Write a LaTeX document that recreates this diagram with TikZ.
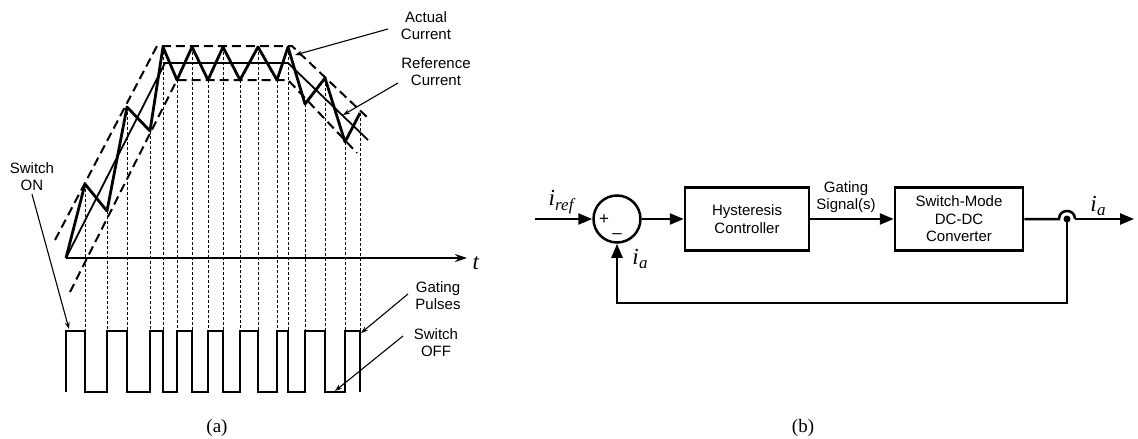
\documentclass[tikz,border=0pt]{standalone}
\usepackage{fontspec}
\setmainfont{Liberation Serif}
\setsansfont{Liberation Sans}
\usetikzlibrary{arrows.meta,calc}
\newcommand\ivar[1]{\textit{i}\kern0.3pt\raisebox{-0.45ex}{\fontsize{17}{17}\selectfont\textit{#1}}}
\begin{document}
\begin{tikzpicture}[x=1pt,y=-1pt,
  lbl/.style={font=\sffamily\fontsize{15}{17}\selectfont, align=center, inner sep=0pt},
  var/.style={font=\fontsize{23}{23}\selectfont, inner sep=0pt},
  captionlbl/.style={font=\fontsize{19}{19}\selectfont, inner sep=0pt},
  bound/.style={line width=2pt, dash pattern=on 9pt off 5pt},
  refc/.style={line width=1.8pt},
  act/.style={line width=2.8pt, line join=round},
  vgrid/.style={line width=0.9pt, dash pattern=on 3pt off 2pt},
  pulse/.style={line width=2.5pt, line join=miter},
  callout/.style={line width=1.1pt, -{Stealth[length=7pt,width=5pt]}},
  blk/.style={draw, line width=2.5pt, minimum width=124pt, minimum height=63pt, align=center,
     font=\sffamily\fontsize{15}{17.5}\selectfont, inner sep=0pt},
  sig/.style={line width=2.5pt, -{Triangle[length=14pt,width=11pt]}}
]
\useasboundingbox (0,0) rectangle (1138,439);

% ---------------- (a) ----------------
\coordinate (o) at (66,258);
\coordinate (tend) at (467,258);
\draw[line width=1.3pt, -{Stealth[length=12pt,width=8pt]}] (o) -- (tend);
\node[var] (tlab) at (476,263) {\textit{t}};

% hysteresis band
\draw[bound] (55,240) -- (157,46) -- (292,46) -- (368,118);
\draw[bound] (70,292) -- (177,80) -- (288,80) -- (357,153);
% reference current
\draw[refc] (o) -- (165,63) -- (288,63) -- (368,140);

% actual current
\draw[act] (o) -- (85,184) -- (107,211) -- (127,107) -- (150,131) -- (163,47) -- (177,80)
  -- (192,47) -- (208,80) -- (223,47) -- (240,80) -- (258,47) -- (277,80) -- (288,47)
  -- (305,104) -- (325,78) -- (345,142) -- (360,113);

% switching instants
\foreach \x/\y in {85/184,107/211,127/107,150/131,163/47,177/80,192/47,208/80,223/47,240/80,
                    258/47,277/80,288/47,305/104,325/78,345/142,360/113}
  \draw[vgrid] (\x,\y) -- (\x,331);

% gating pulses
\draw[pulse] (66,392) -- (66,331) -- (85,331) -- (85,392) -- (107,392) -- (107,331)
  -- (127,331) -- (127,392) -- (150,392) -- (150,331) -- (163,331) -- (163,392)
  -- (177,392) -- (177,331) -- (192,331) -- (192,392) -- (208,392) -- (208,331)
  -- (223,331) -- (223,392) -- (240,392) -- (240,331) -- (258,331) -- (258,392)
  -- (277,392) -- (277,331) -- (288,331) -- (288,392) -- (305,392) -- (305,331)
  -- (325,331) -- (325,392) -- (345,392) -- (345,331) -- (360,331) -- (360,392);

% labels with callouts
\node[lbl] (swon) at (32,177) {Switch\\ON};
\coordinate (swonT) at (69,329);
\draw[callout] (swon.south) ++(0,3) -- (swonT);

\node[lbl] (actl) at (426,26) {Actual\\Current};
\coordinate (actT) at (295,55);
\draw[callout] (388,29) -- (actT);

\node[lbl] (refl) at (436,72) {Reference\\Current};
\coordinate (refT) at (343,115);
\draw[callout] (398,83) -- (refT);

\node[lbl] (gpl) at (438,296) {Gating\\Pulses};
\coordinate (gpT) at (361,333);
\draw[callout] (408,294) -- (gpT);

\node[lbl] (offl) at (436,343) {Switch\\OFF};
\coordinate (offT) at (335,391);
\draw[callout] (403,336) -- (offT);

\node[captionlbl] (capa) at (217,428) {(a)};

% ---------------- (b) ----------------
\node[draw, circle, line width=2.5pt, minimum size=47pt, inner sep=0pt] (sum) at (617,219) {};
\node[font=\sffamily\fontsize{17}{17}\selectfont, inner sep=0pt] (plus) at (604,220) {+};
\node[font=\sffamily\fontsize{17}{17}\selectfont, inner sep=0pt] (minus) at (617,236) {--};
\coordinate (in) at (535,219);
\draw[sig] (in) -- (sum.west);
\node[var] (iref) at (562,202) {\ivar{ref}};

\node[blk] (hyst) at (747,219) {Hysteresis\\Controller};
\draw[sig] (sum.east) -- (hyst.west);

\node[blk, minimum width=128pt] (conv) at (959,219) {Switch-Mode\\DC-DC\\Converter};
\draw[sig] (hyst.east) -- (conv.west);
\node[lbl] (gsig) at (846,197) {Gating\\Signal(s)};

\coordinate (hop) at (1067,219);
\coordinate (out) at (1134,219);
\draw[line width=2.5pt] (conv.east) -- ($(hop)+(-8,0)$)
  .. controls +(0,-10.7) and +(0,-10.7) .. ($(hop)+(8,0)$);
\draw[sig] ($(hop)+(8,0)$) -- (out);
\node[var] (iaout) at (1098,206) {\ivar{a}};

\fill (hop) circle (3.5pt);
\coordinate (fb1) at (1067,303);
\coordinate (fb2) at (617,303);
\draw[sig] (hop) -- (fb1) -- (fb2) -- (sum.south);
\node[var] (iafb) at (640,259) {\ivar{a}};

\node[captionlbl] (capb) at (803,428) {(b)};
\end{tikzpicture}
\end{document}
